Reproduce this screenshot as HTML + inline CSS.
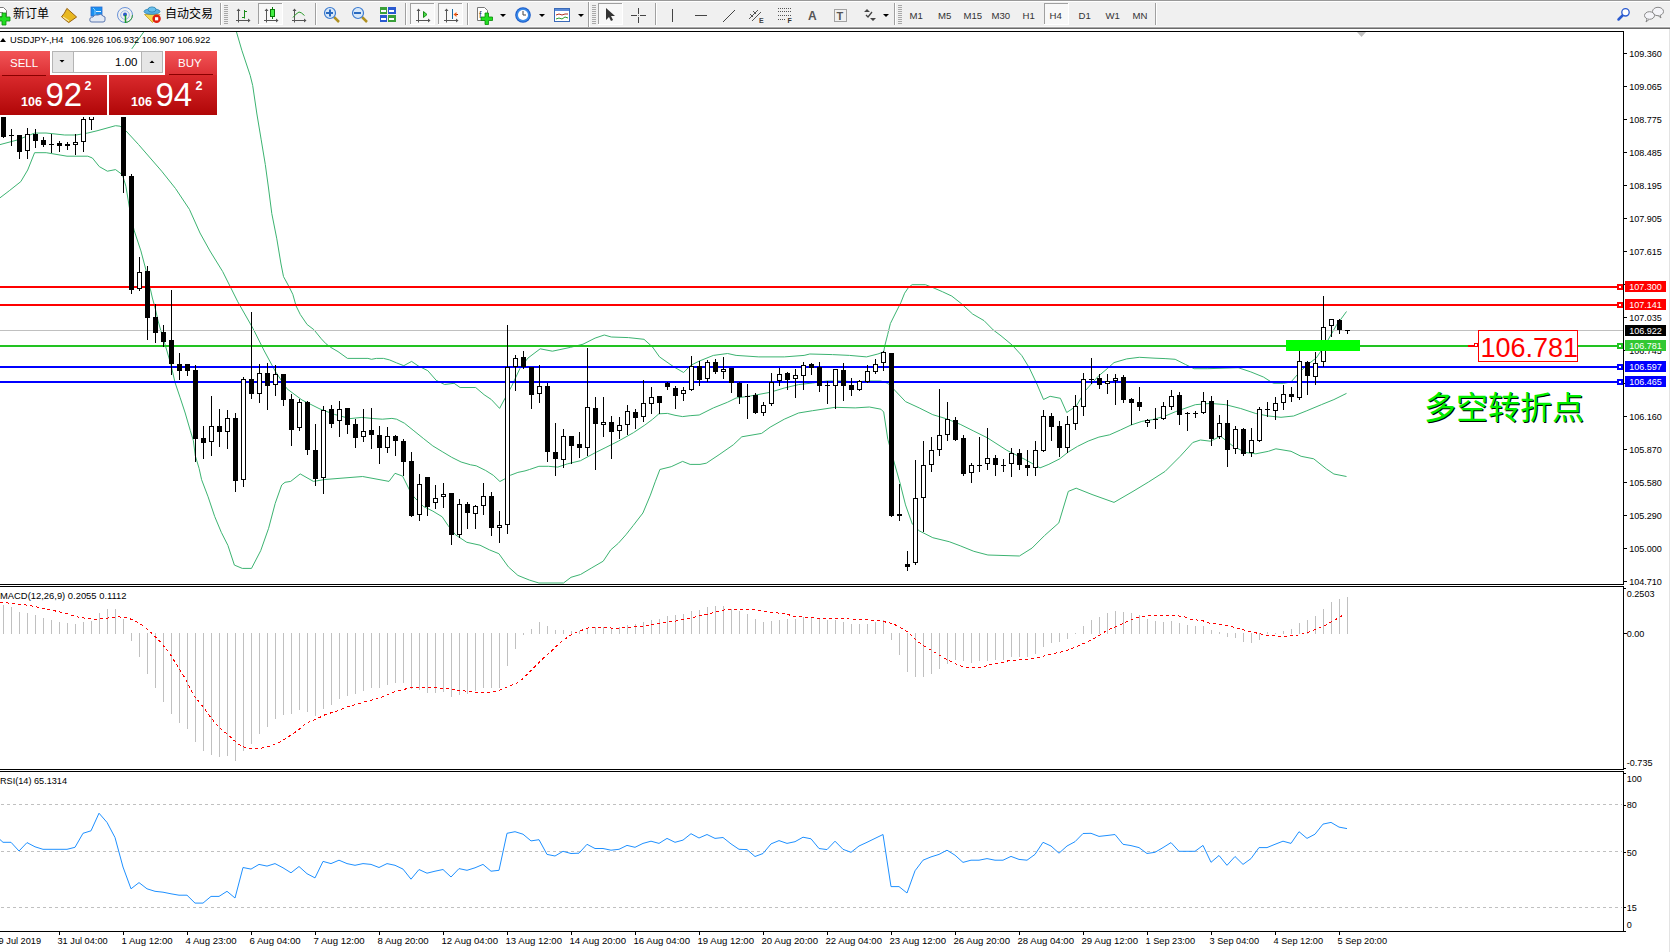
<!DOCTYPE html><html><head><meta charset="utf-8"><title>USDJPY-,H4</title><style>html,body{margin:0;padding:0;background:#fff;}body{width:1670px;height:952px;overflow:hidden;}svg{display:block;}text{font-family:"Liberation Sans","Noto Sans CJK SC",sans-serif;}</style></head><body>
<svg width="1670" height="952" viewBox="0 0 1670 952">
<rect width="1670" height="952" fill="#fff"/>
<rect x="0" y="0" width="1670" height="28" fill="#f0f0f0"/>
<rect x="0" y="0" width="1670" height="1" fill="#999"/>
<rect x="0" y="1" width="1670" height="1" fill="#fff"/>
<rect x="0" y="26" width="1670" height="1" fill="#f8f8f8"/>
<rect x="0" y="27" width="1670" height="1" fill="#a8a8a8"/>
<rect x="0" y="28" width="1670" height="1" fill="#6a6a6a"/>
<rect x="220" y="3" width="1" height="22" fill="#a0a0a0"/><rect x="221" y="3" width="1" height="22" fill="#fff"/>
<rect x="315" y="3" width="1" height="22" fill="#a0a0a0"/><rect x="316" y="3" width="1" height="22" fill="#fff"/>
<rect x="405" y="3" width="1" height="22" fill="#a0a0a0"/><rect x="406" y="3" width="1" height="22" fill="#fff"/>
<rect x="467" y="3" width="1" height="22" fill="#a0a0a0"/><rect x="468" y="3" width="1" height="22" fill="#fff"/>
<rect x="655" y="3" width="1" height="22" fill="#a0a0a0"/><rect x="656" y="3" width="1" height="22" fill="#fff"/>
<rect x="894" y="3" width="1" height="22" fill="#a0a0a0"/><rect x="895" y="3" width="1" height="22" fill="#fff"/>
<rect x="1155" y="3" width="1" height="22" fill="#a0a0a0"/><rect x="1156" y="3" width="1" height="22" fill="#fff"/>
<rect x="588" y="2" width="1" height="25" fill="#a0a0a0"/><rect x="589" y="2" width="1" height="25" fill="#fff"/>
<rect x="224" y="5" width="4" height="1" fill="#a8a8a8"/>
<rect x="224" y="7" width="4" height="1" fill="#a8a8a8"/>
<rect x="224" y="9" width="4" height="1" fill="#a8a8a8"/>
<rect x="224" y="11" width="4" height="1" fill="#a8a8a8"/>
<rect x="224" y="13" width="4" height="1" fill="#a8a8a8"/>
<rect x="224" y="15" width="4" height="1" fill="#a8a8a8"/>
<rect x="224" y="17" width="4" height="1" fill="#a8a8a8"/>
<rect x="224" y="19" width="4" height="1" fill="#a8a8a8"/>
<rect x="224" y="21" width="4" height="1" fill="#a8a8a8"/>
<rect x="224" y="23" width="4" height="1" fill="#a8a8a8"/>
<rect x="592" y="5" width="4" height="1" fill="#a8a8a8"/>
<rect x="592" y="7" width="4" height="1" fill="#a8a8a8"/>
<rect x="592" y="9" width="4" height="1" fill="#a8a8a8"/>
<rect x="592" y="11" width="4" height="1" fill="#a8a8a8"/>
<rect x="592" y="13" width="4" height="1" fill="#a8a8a8"/>
<rect x="592" y="15" width="4" height="1" fill="#a8a8a8"/>
<rect x="592" y="17" width="4" height="1" fill="#a8a8a8"/>
<rect x="592" y="19" width="4" height="1" fill="#a8a8a8"/>
<rect x="592" y="21" width="4" height="1" fill="#a8a8a8"/>
<rect x="592" y="23" width="4" height="1" fill="#a8a8a8"/>
<rect x="898" y="5" width="4" height="1" fill="#a8a8a8"/>
<rect x="898" y="7" width="4" height="1" fill="#a8a8a8"/>
<rect x="898" y="9" width="4" height="1" fill="#a8a8a8"/>
<rect x="898" y="11" width="4" height="1" fill="#a8a8a8"/>
<rect x="898" y="13" width="4" height="1" fill="#a8a8a8"/>
<rect x="898" y="15" width="4" height="1" fill="#a8a8a8"/>
<rect x="898" y="17" width="4" height="1" fill="#a8a8a8"/>
<rect x="898" y="19" width="4" height="1" fill="#a8a8a8"/>
<rect x="898" y="21" width="4" height="1" fill="#a8a8a8"/>
<rect x="898" y="23" width="4" height="1" fill="#a8a8a8"/>
<rect x="258" y="3" width="25" height="22" fill="#f8f8f8"/>
<rect x="258" y="3" width="25" height="1" fill="#a0a0a0"/><rect x="258" y="3" width="1" height="22" fill="#a0a0a0"/>
<rect x="258" y="24" width="25" height="1" fill="#fff"/><rect x="282" y="3" width="1" height="22" fill="#fff"/>
<rect x="410" y="3" width="25" height="22" fill="#f8f8f8"/>
<rect x="410" y="3" width="25" height="1" fill="#a0a0a0"/><rect x="410" y="3" width="1" height="22" fill="#a0a0a0"/>
<rect x="410" y="24" width="25" height="1" fill="#fff"/><rect x="434" y="3" width="1" height="22" fill="#fff"/>
<rect x="438" y="3" width="25" height="22" fill="#f8f8f8"/>
<rect x="438" y="3" width="25" height="1" fill="#a0a0a0"/><rect x="438" y="3" width="1" height="22" fill="#a0a0a0"/>
<rect x="438" y="24" width="25" height="1" fill="#fff"/><rect x="462" y="3" width="1" height="22" fill="#fff"/>
<rect x="598" y="3" width="25" height="22" fill="#f8f8f8"/>
<rect x="598" y="3" width="25" height="1" fill="#a0a0a0"/><rect x="598" y="3" width="1" height="22" fill="#a0a0a0"/>
<rect x="598" y="24" width="25" height="1" fill="#fff"/><rect x="622" y="3" width="1" height="22" fill="#fff"/>
<rect x="1044" y="3" width="25" height="22" fill="#f8f8f8"/>
<rect x="1044" y="3" width="25" height="1" fill="#a0a0a0"/><rect x="1044" y="3" width="1" height="22" fill="#a0a0a0"/>
<rect x="1044" y="24" width="25" height="1" fill="#fff"/><rect x="1068" y="3" width="1" height="22" fill="#fff"/>
<path d="M-1.5,7.5 h5 l3,3 v6 h-8 z" fill="#fff" stroke="#7a7a7a"/>
<rect x="0" y="12" width="3" height="1" fill="#888"/>
<path d="M2,13 h4 v4 h4 v4 h-4 v4 h-4 v-4 h-4 v-4 h4 z" fill="#22dd22" stroke="#0a8a0a" stroke-width="0.8"/>
<text x="13" y="18" font-size="12" fill="#000" font-family='"Noto Sans CJK SC",sans-serif'>新订单</text>
<path d="M61.5,16.8 q3,-3 5.4,-8.4 l9.7,8.6 l-7.9,5.6 z" fill="#e8b820" stroke="#9a6410" stroke-width="1"/>
<path d="M63,17 l6,4" fill="none" stroke="#f8e8a0" stroke-width="1.2"/>
<rect x="91" y="7" width="11" height="9" fill="#1a90f0" stroke="#2a6ad0" stroke-width="0.8"/>
<path d="M93,8 l2,2 v6" stroke="#8ad0ff" fill="none"/><rect x="96" y="11" width="5" height="1" fill="#e8f4ff"/>
<path d="M90,21 q-1,-4 3,-4 q1,-3 5,-2 q3,-2 5,1 q3,0 2,4 q0,2 -2,2 h-11 q-2,0 -2,-1 z" fill="#e4eaf4" stroke="#4a6aa8" stroke-width="0.9"/>
<circle cx="125" cy="15" r="7.5" fill="none" stroke="#6a92d8" stroke-width="1"/>
<path d="M125,22.5 a7.5,7.5 0 0 0 7.5,-7.5" fill="none" stroke="#3aa040" stroke-width="1"/>
<circle cx="125" cy="15" r="4.3" fill="none" stroke="#9ab8e8" stroke-width="1"/>
<circle cx="125" cy="14.5" r="2" fill="#2a5ac8"/>
<path d="M125.5,15 v8" fill="none" stroke="#1a9a2a" stroke-width="1.5"/>
<path d="M144.5,14.5 l8,8 l7.5,-8 z" fill="#f4d850" stroke="#c09a20" stroke-width="0.8"/>
<ellipse cx="152" cy="11.5" rx="8" ry="2.8" fill="#5ab0e0" stroke="#2a80b0" stroke-width="0.8"/>
<ellipse cx="152" cy="9.5" rx="4" ry="2.6" fill="#6ac0ec" stroke="#2a80b0" stroke-width="0.8"/>
<circle cx="156.6" cy="18.8" r="4.2" fill="#e02010"/><rect x="155" y="17.2" width="3.2" height="3.2" fill="#fff"/>
<text x="165" y="18" font-size="12" fill="#000" font-family='"Noto Sans CJK SC",sans-serif'>自动交易</text>
<path d="M238.5,9.5 v13 M236.0,20.5 h13" stroke="#555" stroke-width="1" fill="none"/>
<path d="M238.5,8.5 l-2,2.5 h4 z M250.5,20.5 l-2.5,-2 v4 z" fill="#555"/>
<path d="M244.5,10 v8.5 M242,17.5 h2.5 M244.5,11.5 h2.5" stroke="#1a8a1a" fill="none"/>
<path d="M266.5,9.5 v13 M264.0,20.5 h13" stroke="#555" stroke-width="1" fill="none"/>
<path d="M266.5,8.5 l-2,2.5 h4 z M278.5,20.5 l-2.5,-2 v4 z" fill="#555"/>
<path d="M272.5,7 v12" stroke="#0a7a0a"/><rect x="270.5" y="9.5" width="4" height="7" fill="#44ee44" stroke="#0a7a0a"/>
<path d="M294.5,9.5 v13 M292.0,20.5 h13" stroke="#555" stroke-width="1" fill="none"/>
<path d="M294.5,8.5 l-2,2.5 h4 z M306.5,20.5 l-2.5,-2 v4 z" fill="#555"/>
<path d="M293,17.5 q3,-4 6,-5.5 q2,0 5.5,3.5" stroke="#2a9a2a" fill="none" stroke-width="1"/>
<line x1="334" y1="17" x2="339" y2="22" stroke="#b09020" stroke-width="2.5"/>
<circle cx="330" cy="13" r="5.5" fill="#d8e8f8" stroke="#3a7ad0" stroke-width="1.2"/>
<rect x="326" y="12" width="7" height="2" fill="#2a6ac0"/>
<rect x="329" y="9.5" width="2" height="7" fill="#2a6ac0"/>
<line x1="362" y1="17" x2="367" y2="22" stroke="#b09020" stroke-width="2.5"/>
<circle cx="358" cy="13" r="5.5" fill="#d8e8f8" stroke="#3a7ad0" stroke-width="1.2"/>
<rect x="354" y="12" width="7" height="2" fill="#2a6ac0"/>
<rect x="380" y="7" width="7" height="7" fill="#3aa03a"/><rect x="388" y="7" width="8" height="7" fill="#2a5ad0"/>
<rect x="380" y="15" width="7" height="7" fill="#2a5ad0"/><rect x="388" y="15" width="8" height="7" fill="#3aa03a"/>
<rect x="381" y="10" width="5" height="2" fill="#fff"/>
<rect x="389" y="10" width="5" height="2" fill="#fff"/>
<rect x="381" y="18" width="5" height="2" fill="#fff"/>
<rect x="389" y="18" width="5" height="2" fill="#fff"/>
<path d="M418.5,9.5 v13 M416.0,20.5 h13" stroke="#555" stroke-width="1" fill="none"/>
<path d="M418.5,8.5 l-2,2.5 h4 z M430.5,20.5 l-2.5,-2 v4 z" fill="#555"/>
<path d="M423.5,11.5 l3.5,3 l-3.5,3 z" fill="#44dd44" stroke="#1a8a1a"/>
<path d="M446.5,9.5 v13 M444.0,20.5 h13" stroke="#555" stroke-width="1" fill="none"/>
<path d="M446.5,8.5 l-2,2.5 h4 z M458.5,20.5 l-2.5,-2 v4 z" fill="#555"/>
<path d="M452.5,9 v10" stroke="#1a6aa0"/><path d="M458,14.5 h-4" stroke="#a02000"/><path d="M453.5,14.5 l3,-2.5 v5 z" fill="#f05a10"/>
<path d="M477.5,7.5 h7 l3,3 v10 h-10 z" fill="#fff" stroke="#777"/>
<text x="479" y="18" font-size="9" fill="#333" font-family="Liberation Serif,serif">f</text>
<path d="M485,13 h3.5 v4 h4 v3.5 h-4 v4 h-3.5 v-4 h-4 v-3.5 h4 z" fill="#22dd22" stroke="#0a8a0a" stroke-width="0.8"/>
<path d="M500,14 h6 l-3,3 z" fill="#000"/>
<path d="M539,14 h6 l-3,3 z" fill="#000"/>
<path d="M578,14 h6 l-3,3 z" fill="#000"/>
<circle cx="523" cy="15" r="7.8" fill="#1a5ac8"/><circle cx="523" cy="15" r="6.8" fill="#3a8ae8"/><circle cx="523" cy="15" r="5" fill="#fff"/>
<path d="M523,11 v4 h3" stroke="#444" fill="none"/>
<rect x="554.5" y="8.5" width="15" height="13" fill="#fff" stroke="#3a6ab8"/><rect x="555" y="9" width="14" height="2" fill="#5a8ad8"/>
<path d="M556,15 l3,-1 l3,1 l3,-1 l3,0" stroke="#b03020" fill="none"/><path d="M556,19 l3,-1 l3,1 l3,-2 l3,1" stroke="#2a9a2a" fill="none"/>
<path d="M606,8 v12 l3,-3 l2,4 l2,-1 l-2,-4 h4 z" fill="#333"/>
<path d="M631,15.5 h6 M640,15.5 h6 M638.5,8 v6 M638.5,17 v6" stroke="#444"/><rect x="638" y="15" width="1" height="1" fill="#888"/>
<path d="M672.5,9 v13" stroke="#444"/>
<path d="M695,15.5 h12" stroke="#444"/>
<path d="M723,22 l12,-12" stroke="#444"/>
<path d="M749,19 l9,-9 M752,21 l9,-9 M750,14 l3,3 M753,11 l3,3" stroke="#555" fill="none"/>
<text x="759" y="23" font-size="7" font-weight="bold" fill="#444" font-family="Liberation Sans,sans-serif">E</text>
<path d="M778,8.5 h14" stroke="#555" stroke-dasharray="1 1"/>
<path d="M778,11.5 h14" stroke="#555" stroke-dasharray="1 1"/>
<path d="M778,15.5 h14" stroke="#555" stroke-dasharray="1 1"/>
<path d="M778,19.5 h8" stroke="#555" stroke-dasharray="1 1"/>
<text x="787.5" y="23" font-size="7" font-weight="bold" fill="#333" font-family="Liberation Sans,sans-serif">F</text>
<text x="808" y="20" font-size="12" font-weight="bold" fill="#555" font-family="Liberation Sans,sans-serif">A</text>
<rect x="834.5" y="9.5" width="12" height="12" fill="none" stroke="#555" stroke-dasharray="1 1"/>
<text x="836.5" y="20" font-size="11" font-weight="bold" fill="#555" font-family="Liberation Sans,sans-serif">T</text>
<path d="M864,12 l3,-3 l3,3 z M870,18 l3,3 l3,-3 z" fill="#444"/><path d="M866,15 l2,2 l4,-5" stroke="#444" fill="none" stroke-width="1.3"/>
<path d="M883,14 h6 l-3,3 z" fill="#000"/>
<text x="909.5" y="18.8" font-size="9.6" fill="#333" font-family="Liberation Sans,sans-serif">M1</text>
<text x="938.0" y="18.8" font-size="9.6" fill="#333" font-family="Liberation Sans,sans-serif">M5</text>
<text x="963.5" y="18.8" font-size="9.6" fill="#333" font-family="Liberation Sans,sans-serif">M15</text>
<text x="991.5" y="18.8" font-size="9.6" fill="#333" font-family="Liberation Sans,sans-serif">M30</text>
<text x="1022.5" y="18.8" font-size="9.6" fill="#333" font-family="Liberation Sans,sans-serif">H1</text>
<text x="1049.5" y="18.8" font-size="9.6" fill="#333" font-family="Liberation Sans,sans-serif">H4</text>
<text x="1078.5" y="18.8" font-size="9.6" fill="#333" font-family="Liberation Sans,sans-serif">D1</text>
<text x="1105.5" y="18.8" font-size="9.6" fill="#333" font-family="Liberation Sans,sans-serif">W1</text>
<text x="1132.5" y="18.8" font-size="9.6" fill="#333" font-family="Liberation Sans,sans-serif">MN</text>
<line x1="1618.5" y1="19.5" x2="1622.5" y2="15.5" stroke="#2a5ad0" stroke-width="2.5" stroke-linecap="round"/>
<circle cx="1625.5" cy="12.3" r="3.7" fill="#fff" stroke="#2a5ad0" stroke-width="1.3"/>
<ellipse cx="1658" cy="11.5" rx="5.5" ry="4.2" fill="#f4f4f8" stroke="#888"/>
<path d="M1660,15 l1,3 l-3,-2.5" fill="#f4f4f8" stroke="#888"/>
<ellipse cx="1649.5" cy="15.5" rx="5" ry="3.8" fill="#f4f4f8" stroke="#888"/>
<path d="M1647,19 l-1,3 l3,-2.5" fill="#f4f4f8" stroke="#888"/>
<defs><clipPath id="cm"><rect x="0" y="32" width="1623" height="552"/></clipPath><clipPath id="cd"><rect x="0" y="587" width="1623" height="182"/></clipPath><clipPath id="cr"><rect x="0" y="772" width="1623" height="159"/></clipPath></defs>
<g clip-path="url(#cm)">
<polyline points="0.0,144.6 17.3,140.0 34.6,133.1 46.0,133.0 64.7,135.0 76.0,135.0 87.8,133.0 97.0,130.8 115.5,125.7 120.0,126.2 125.9,130.8 138.6,144.6 161.7,171.2 175.5,188.5 189.4,209.3 200.0,233.0 210.0,251.0 222.7,271.6 237.8,301.8 252.9,328.3 264.3,351.0 275.6,371.8 287.0,388.8 302.0,400.0 320.0,409.0 334.4,414.4 350.0,418.6 361.9,417.4 373.9,418.6 382.3,419.2 391.9,418.4 396.6,419.2 404.4,423.2 413.9,430.8 423.3,438.4 432.8,445.9 442.2,451.6 451.7,457.3 461.1,462.0 470.6,464.8 476.2,465.8 485.7,470.5 493.3,475.3 499.9,481.5 504.6,479.0 510.3,475.3 517.9,472.4 525.0,470.9 529.5,469.5 538.9,466.3 548.4,466.3 557.8,467.1 567.3,463.9 580.5,460.7 595.6,452.5 605.1,447.8 618.3,441.2 633.4,432.7 644.8,425.1 652.3,419.5 658.9,413.8 667.4,413.4 675.0,415.3 682.6,416.6 690.1,415.7 699.2,415.0 713.4,407.9 727.6,402.2 736.1,398.0 750.3,396.0 770.1,392.3 784.3,388.0 798.5,384.6 812.6,383.0 826.8,381.0 841.0,381.0 855.2,381.8 869.4,381.0 880.7,381.0 887.8,383.3 894.6,390.1 905.5,401.6 919.2,407.9 932.8,414.7 946.5,418.8 960.2,424.3 973.8,431.1 987.5,437.9 1006.8,450.3 1025.7,459.8 1040.0,467.9 1048.9,464.3 1059.6,458.9 1068.6,451.8 1077.5,446.4 1088.2,441.1 1098.9,437.1 1109.6,434.8 1120.4,430.0 1131.1,425.0 1141.8,421.4 1152.5,419.6 1165.0,416.1 1175.7,411.6 1195.3,404.7 1210.5,403.4 1225.6,404.7 1240.7,408.5 1255.8,413.5 1268.4,416.0 1281.0,417.3 1293.6,416.0 1306.2,411.0 1321.3,404.7 1333.9,399.6 1346.5,393.4" fill="none" stroke="#3cb371" stroke-width="1"/>
<polyline points="0.0,197.8 9.2,190.8 20.8,181.6 27.7,170.0 34.6,152.7 46.2,152.7 67.0,156.2 87.8,156.2 92.4,158.0 99.3,166.6 107.4,171.2 115.5,169.6 122.4,174.7 125.9,186.2 129.3,207.0 134.0,230.0 140.9,250.9 146.3,271.3 152.4,298.0 155.5,309.5 158.1,321.0 160.8,330.5 164.0,341.0 170.7,363.8 175.1,382.7 180.2,397.8 185.2,413.0 190.3,430.6 193.4,440.7 195.3,455.8 199.1,468.4 201.6,479.7 208.1,496.8 214.7,516.5 221.3,532.3 227.9,545.4 234.4,565.1 242.3,568.4 251.5,568.4 260.7,550.7 268.6,528.3 275.2,503.4 281.7,485.0 285.0,482.3 290.7,481.4 300.2,473.9 313.4,481.4 324.8,479.5 362.6,476.5 389.0,481.4 395.0,473.3 402.6,476.1 409.2,489.4 413.9,496.9 423.3,506.4 432.8,511.1 442.2,516.8 447.9,525.3 455.5,534.8 466.8,542.3 480.0,545.2 489.5,549.9 498.9,553.7 508.4,566.9 517.9,575.4 525.0,578.3 529.5,580.1 538.9,583.0 563.5,583.0 571.0,577.3 580.5,574.5 591.8,567.8 603.2,561.2 610.7,549.9 618.3,543.3 625.9,534.8 633.4,525.3 642.9,513.0 650.4,495.1 655.2,481.8 659.9,469.5 671.2,466.7 682.6,461.4 690.1,464.4 700.0,464.4 706.3,463.2 719.1,454.7 733.3,444.8 741.8,436.8 761.6,433.4 770.1,427.2 784.3,419.2 798.5,413.0 812.6,410.7 835.3,407.3 855.2,407.9 869.4,407.0 880.9,409.2 883.7,412.0 887.8,439.3 894.6,463.9 900.0,483.0 905.5,504.9 912.3,524.0 919.2,530.8 932.8,537.7 949.2,541.7 960.2,545.8 973.8,551.3 987.9,555.0 1019.4,556.0 1032.0,548.1 1044.6,535.5 1058.8,522.9 1068.3,491.4 1076.2,488.2 1092.0,494.5 1114.0,502.4 1133.0,491.4 1148.7,481.9 1165.1,471.4 1180.2,456.3 1192.8,442.5 1200.4,440.0 1210.5,441.2 1220.5,436.2 1233.1,446.2 1245.7,452.5 1255.8,453.8 1268.4,451.3 1275.9,448.8 1291.0,451.3 1301.1,456.3 1313.7,458.8 1326.3,468.9 1333.9,474.0 1346.5,476.5" fill="none" stroke="#3cb371" stroke-width="1"/>
<polyline points="236.4,31.7 241.8,50.2 250.2,75.4 252.7,85.5 256.9,114.0 261.1,139.2 265.3,164.5 268.5,188.0 271.8,213.6 276.8,238.8 281.0,264.0 283.5,276.6 288.6,285.9 292.8,294.3 296.1,306.0 300.3,314.5 307.1,324.5 313.8,329.6 321.3,338.8 326.0,343.8 330.8,347.4 338.0,351.6 347.5,358.4 367.9,358.4 371.5,359.3 376.3,358.4 383.5,358.4 389.5,359.9 396.6,362.9 403.8,365.7 411.6,361.4 418.2,365.9 427.8,370.7 436.2,380.3 444.6,384.5 454.1,383.3 460.1,387.5 475.7,387.5 484.1,394.7 491.3,399.5 499.6,408.4 505.0,398.3 511.6,386.3 520.0,368.3 528.0,358.0 540.2,348.8 552.4,351.2 570.7,347.3 583.0,344.2 595.1,338.1 604.3,335.0 611.3,337.0 628.4,337.6 644.0,339.3 652.5,347.0 659.5,356.9 673.7,366.8 683.6,372.5 690.7,365.4 699.2,361.1 713.4,355.4 727.6,353.5 736.1,355.4 758.8,356.9 784.3,356.9 804.1,355.4 809.8,354.0 832.5,354.6 849.5,355.4 866.5,356.9 877.9,354.0 883.7,351.9 884.7,346.2 887.6,334.8 890.4,323.5 895.1,314.0 900.8,302.7 904.6,293.2 908.4,287.6 912.1,284.7 925.4,284.7 932.9,287.6 942.4,291.7 951.8,296.1 961.3,303.6 972.6,314.0 984.0,320.6 993.4,330.1 1001.0,335.8 1012.3,345.2 1021.8,355.6 1029.3,367.9 1036.9,384.0 1043.5,399.5 1050.1,396.3 1060.4,398.3 1066.7,412.5 1076.2,406.2 1085.6,390.4 1098.3,376.2 1107.7,368.3 1114.0,362.6 1126.7,358.9 1139.3,357.3 1155.0,358.2 1165.1,358.6 1175.2,359.3 1185.3,364.4 1194.1,368.7 1207.9,368.7 1223.0,368.2 1238.2,367.7 1250.8,371.9 1263.4,377.0 1273.4,383.3 1283.5,383.3 1291.0,382.0 1298.6,373.2 1306.2,365.6 1316.2,358.1 1326.3,343.0 1336.4,325.3 1346.5,311.5" fill="none" stroke="#3cb371" stroke-width="1"/>
<polyline points="120.0,75.0 126.0,62.0 132.1,48.4 144.4,31.0" fill="none" stroke="#3cb371" stroke-width="1"/>
</g>
<g clip-path="url(#cm)" shape-rendering="crispEdges">
<rect x="0" y="286" width="1623" height="2" fill="#f00"/>
<rect x="0" y="304" width="1623" height="2" fill="#f00"/>
<rect x="0" y="330" width="1623" height="1" fill="#c0c0c0"/>
<rect x="0" y="345" width="1623" height="2" fill="#22c322"/>
<rect x="0" y="366" width="1623" height="2" fill="#00f"/>
<rect x="0" y="381" width="1623" height="2" fill="#00f"/>
</g>
<g clip-path="url(#cm)" shape-rendering="crispEdges" fill="#000">
<rect x="3" y="110" width="1" height="28"/>
<rect x="1" y="110" width="5" height="27"/>
<rect x="11" y="129" width="1" height="17"/>
<rect x="9" y="135" width="5" height="1"/>
<rect x="19" y="135" width="1" height="24"/>
<rect x="17" y="135" width="5" height="17"/>
<rect x="27" y="128" width="1" height="31"/>
<rect x="25" y="134" width="5" height="17"/>
<rect x="26" y="135" width="3" height="15" fill="#fff"/>
<rect x="35" y="129" width="1" height="19"/>
<rect x="33" y="134" width="5" height="7"/>
<rect x="43" y="137" width="1" height="10"/>
<rect x="41" y="140" width="5" height="5"/>
<rect x="51" y="134" width="1" height="19"/>
<rect x="49" y="144" width="5" height="1"/>
<rect x="59" y="141" width="1" height="11"/>
<rect x="57" y="143" width="5" height="3"/>
<rect x="67" y="142" width="1" height="8"/>
<rect x="65" y="144" width="5" height="2"/>
<rect x="75" y="134" width="1" height="21"/>
<rect x="73" y="142" width="5" height="3"/>
<rect x="74" y="143" width="3" height="1" fill="#fff"/>
<rect x="83" y="110" width="1" height="42"/>
<rect x="81" y="119" width="5" height="23"/>
<rect x="82" y="120" width="3" height="21" fill="#fff"/>
<rect x="91" y="100" width="1" height="30"/>
<rect x="89" y="100" width="5" height="20"/>
<rect x="90" y="101" width="3" height="18" fill="#fff"/>
<rect x="99" y="90" width="1" height="21"/>
<rect x="97" y="95" width="5" height="10"/>
<rect x="98" y="96" width="3" height="8" fill="#fff"/>
<rect x="107" y="90" width="1" height="19"/>
<rect x="105" y="95" width="5" height="10"/>
<rect x="115" y="85" width="1" height="21"/>
<rect x="113" y="90" width="5" height="10"/>
<rect x="114" y="91" width="3" height="8" fill="#fff"/>
<rect x="123" y="110" width="1" height="83"/>
<rect x="121" y="110" width="5" height="66"/>
<rect x="131" y="174" width="1" height="120"/>
<rect x="129" y="176" width="5" height="114"/>
<rect x="139" y="257" width="1" height="34"/>
<rect x="137" y="272" width="5" height="17"/>
<rect x="138" y="273" width="3" height="15" fill="#fff"/>
<rect x="147" y="266" width="1" height="74"/>
<rect x="145" y="271" width="5" height="47"/>
<rect x="155" y="304" width="1" height="39"/>
<rect x="153" y="317" width="5" height="16"/>
<rect x="163" y="325" width="1" height="22"/>
<rect x="161" y="332" width="5" height="10"/>
<rect x="171" y="290" width="1" height="85"/>
<rect x="169" y="340" width="5" height="24"/>
<rect x="179" y="353" width="1" height="27"/>
<rect x="177" y="364" width="5" height="7"/>
<rect x="187" y="364" width="1" height="12"/>
<rect x="185" y="364" width="5" height="7"/>
<rect x="195" y="365" width="1" height="97"/>
<rect x="193" y="370" width="5" height="69"/>
<rect x="203" y="426" width="1" height="33"/>
<rect x="201" y="438" width="5" height="5"/>
<rect x="211" y="396" width="1" height="60"/>
<rect x="209" y="426" width="5" height="16"/>
<rect x="210" y="427" width="3" height="14" fill="#fff"/>
<rect x="219" y="409" width="1" height="38"/>
<rect x="217" y="426" width="5" height="6"/>
<rect x="227" y="410" width="1" height="39"/>
<rect x="225" y="418" width="5" height="14"/>
<rect x="226" y="419" width="3" height="12" fill="#fff"/>
<rect x="235" y="413" width="1" height="79"/>
<rect x="233" y="418" width="5" height="63"/>
<rect x="243" y="377" width="1" height="110"/>
<rect x="241" y="379" width="5" height="101"/>
<rect x="242" y="380" width="3" height="99" fill="#fff"/>
<rect x="251" y="312" width="1" height="87"/>
<rect x="249" y="379" width="5" height="15"/>
<rect x="259" y="364" width="1" height="39"/>
<rect x="257" y="373" width="5" height="21"/>
<rect x="258" y="374" width="3" height="19" fill="#fff"/>
<rect x="267" y="363" width="1" height="47"/>
<rect x="265" y="373" width="5" height="13"/>
<rect x="275" y="365" width="1" height="31"/>
<rect x="273" y="374" width="5" height="11"/>
<rect x="274" y="375" width="3" height="9" fill="#fff"/>
<rect x="283" y="374" width="1" height="32"/>
<rect x="281" y="374" width="5" height="26"/>
<rect x="291" y="394" width="1" height="52"/>
<rect x="289" y="399" width="5" height="31"/>
<rect x="299" y="399" width="1" height="32"/>
<rect x="297" y="402" width="5" height="26"/>
<rect x="298" y="403" width="3" height="24" fill="#fff"/>
<rect x="307" y="401" width="1" height="54"/>
<rect x="305" y="402" width="5" height="48"/>
<rect x="315" y="424" width="1" height="62"/>
<rect x="313" y="450" width="5" height="29"/>
<rect x="323" y="406" width="1" height="88"/>
<rect x="321" y="410" width="5" height="68"/>
<rect x="322" y="411" width="3" height="66" fill="#fff"/>
<rect x="331" y="405" width="1" height="23"/>
<rect x="329" y="409" width="5" height="15"/>
<rect x="339" y="401" width="1" height="36"/>
<rect x="337" y="409" width="5" height="12"/>
<rect x="338" y="410" width="3" height="10" fill="#fff"/>
<rect x="347" y="408" width="1" height="26"/>
<rect x="345" y="408" width="5" height="17"/>
<rect x="355" y="419" width="1" height="29"/>
<rect x="353" y="424" width="5" height="14"/>
<rect x="363" y="409" width="1" height="33"/>
<rect x="361" y="431" width="5" height="6"/>
<rect x="362" y="432" width="3" height="4" fill="#fff"/>
<rect x="371" y="408" width="1" height="41"/>
<rect x="369" y="430" width="5" height="5"/>
<rect x="379" y="426" width="1" height="38"/>
<rect x="377" y="435" width="5" height="13"/>
<rect x="387" y="427" width="1" height="26"/>
<rect x="385" y="436" width="5" height="12"/>
<rect x="386" y="437" width="3" height="10" fill="#fff"/>
<rect x="395" y="435" width="1" height="21"/>
<rect x="393" y="436" width="5" height="5"/>
<rect x="403" y="439" width="1" height="37"/>
<rect x="401" y="441" width="5" height="21"/>
<rect x="411" y="452" width="1" height="65"/>
<rect x="409" y="461" width="5" height="55"/>
<rect x="419" y="474" width="1" height="47"/>
<rect x="417" y="484" width="5" height="31"/>
<rect x="418" y="485" width="3" height="29" fill="#fff"/>
<rect x="427" y="477" width="1" height="39"/>
<rect x="425" y="477" width="5" height="30"/>
<rect x="435" y="485" width="1" height="24"/>
<rect x="433" y="498" width="5" height="5"/>
<rect x="434" y="499" width="3" height="3" fill="#fff"/>
<rect x="443" y="483" width="1" height="25"/>
<rect x="441" y="494" width="5" height="3"/>
<rect x="442" y="495" width="3" height="1" fill="#fff"/>
<rect x="451" y="493" width="1" height="52"/>
<rect x="449" y="493" width="5" height="42"/>
<rect x="459" y="499" width="1" height="39"/>
<rect x="457" y="504" width="5" height="31"/>
<rect x="458" y="505" width="3" height="29" fill="#fff"/>
<rect x="467" y="502" width="1" height="27"/>
<rect x="465" y="504" width="5" height="9"/>
<rect x="475" y="505" width="1" height="24"/>
<rect x="473" y="506" width="5" height="8"/>
<rect x="474" y="507" width="3" height="6" fill="#fff"/>
<rect x="483" y="483" width="1" height="32"/>
<rect x="481" y="496" width="5" height="10"/>
<rect x="482" y="497" width="3" height="8" fill="#fff"/>
<rect x="491" y="492" width="1" height="44"/>
<rect x="489" y="496" width="5" height="32"/>
<rect x="499" y="511" width="1" height="32"/>
<rect x="497" y="525" width="5" height="3"/>
<rect x="498" y="526" width="3" height="1" fill="#fff"/>
<rect x="507" y="325" width="1" height="209"/>
<rect x="505" y="367" width="5" height="158"/>
<rect x="506" y="368" width="3" height="156" fill="#fff"/>
<rect x="515" y="355" width="1" height="36"/>
<rect x="513" y="358" width="5" height="9"/>
<rect x="514" y="359" width="3" height="7" fill="#fff"/>
<rect x="523" y="351" width="1" height="18"/>
<rect x="521" y="357" width="5" height="10"/>
<rect x="531" y="367" width="1" height="42"/>
<rect x="529" y="367" width="5" height="28"/>
<rect x="539" y="365" width="1" height="38"/>
<rect x="537" y="386" width="5" height="8"/>
<rect x="538" y="387" width="3" height="6" fill="#fff"/>
<rect x="547" y="383" width="1" height="79"/>
<rect x="545" y="386" width="5" height="66"/>
<rect x="555" y="423" width="1" height="53"/>
<rect x="553" y="452" width="5" height="7"/>
<rect x="563" y="429" width="1" height="39"/>
<rect x="561" y="436" width="5" height="24"/>
<rect x="562" y="437" width="3" height="22" fill="#fff"/>
<rect x="571" y="436" width="1" height="28"/>
<rect x="569" y="436" width="5" height="10"/>
<rect x="579" y="432" width="1" height="26"/>
<rect x="577" y="444" width="5" height="4"/>
<rect x="587" y="348" width="1" height="108"/>
<rect x="585" y="407" width="5" height="41"/>
<rect x="586" y="408" width="3" height="39" fill="#fff"/>
<rect x="595" y="397" width="1" height="73"/>
<rect x="593" y="408" width="5" height="16"/>
<rect x="603" y="397" width="1" height="40"/>
<rect x="601" y="422" width="5" height="3"/>
<rect x="602" y="423" width="3" height="1" fill="#fff"/>
<rect x="611" y="416" width="1" height="43"/>
<rect x="609" y="422" width="5" height="10"/>
<rect x="619" y="417" width="1" height="22"/>
<rect x="617" y="425" width="5" height="6"/>
<rect x="618" y="426" width="3" height="4" fill="#fff"/>
<rect x="627" y="405" width="1" height="30"/>
<rect x="625" y="411" width="5" height="14"/>
<rect x="626" y="412" width="3" height="12" fill="#fff"/>
<rect x="635" y="409" width="1" height="20"/>
<rect x="633" y="412" width="5" height="6"/>
<rect x="643" y="380" width="1" height="42"/>
<rect x="641" y="403" width="5" height="14"/>
<rect x="642" y="404" width="3" height="12" fill="#fff"/>
<rect x="651" y="387" width="1" height="27"/>
<rect x="649" y="397" width="5" height="7"/>
<rect x="650" y="398" width="3" height="5" fill="#fff"/>
<rect x="659" y="396" width="1" height="18"/>
<rect x="657" y="396" width="5" height="7"/>
<rect x="667" y="382" width="1" height="8"/>
<rect x="665" y="383" width="5" height="4"/>
<rect x="675" y="386" width="1" height="23"/>
<rect x="673" y="388" width="5" height="8"/>
<rect x="683" y="387" width="1" height="14"/>
<rect x="681" y="390" width="5" height="4"/>
<rect x="682" y="391" width="3" height="2" fill="#fff"/>
<rect x="691" y="356" width="1" height="35"/>
<rect x="689" y="366" width="5" height="24"/>
<rect x="690" y="367" width="3" height="22" fill="#fff"/>
<rect x="699" y="361" width="1" height="25"/>
<rect x="697" y="366" width="5" height="14"/>
<rect x="707" y="360" width="1" height="22"/>
<rect x="705" y="362" width="5" height="17"/>
<rect x="706" y="363" width="3" height="15" fill="#fff"/>
<rect x="715" y="359" width="1" height="15"/>
<rect x="713" y="362" width="5" height="10"/>
<rect x="723" y="357" width="1" height="22"/>
<rect x="721" y="369" width="5" height="3"/>
<rect x="722" y="370" width="3" height="1" fill="#fff"/>
<rect x="731" y="368" width="1" height="25"/>
<rect x="729" y="368" width="5" height="15"/>
<rect x="739" y="382" width="1" height="22"/>
<rect x="737" y="383" width="5" height="14"/>
<rect x="747" y="384" width="1" height="35"/>
<rect x="745" y="396" width="5" height="1"/>
<rect x="755" y="393" width="1" height="21"/>
<rect x="753" y="395" width="5" height="18"/>
<rect x="763" y="402" width="1" height="14"/>
<rect x="761" y="405" width="5" height="8"/>
<rect x="762" y="406" width="3" height="6" fill="#fff"/>
<rect x="771" y="373" width="1" height="33"/>
<rect x="769" y="382" width="5" height="22"/>
<rect x="770" y="383" width="3" height="20" fill="#fff"/>
<rect x="779" y="368" width="1" height="18"/>
<rect x="777" y="374" width="5" height="7"/>
<rect x="778" y="375" width="3" height="5" fill="#fff"/>
<rect x="787" y="372" width="1" height="18"/>
<rect x="785" y="373" width="5" height="7"/>
<rect x="795" y="369" width="1" height="29"/>
<rect x="793" y="375" width="5" height="4"/>
<rect x="794" y="376" width="3" height="2" fill="#fff"/>
<rect x="803" y="362" width="1" height="28"/>
<rect x="801" y="365" width="5" height="11"/>
<rect x="802" y="366" width="3" height="9" fill="#fff"/>
<rect x="811" y="363" width="1" height="12"/>
<rect x="809" y="364" width="5" height="4"/>
<rect x="819" y="362" width="1" height="30"/>
<rect x="817" y="367" width="5" height="19"/>
<rect x="827" y="381" width="1" height="23"/>
<rect x="825" y="385" width="5" height="1"/>
<rect x="835" y="369" width="1" height="40"/>
<rect x="833" y="369" width="5" height="17"/>
<rect x="834" y="370" width="3" height="15" fill="#fff"/>
<rect x="843" y="363" width="1" height="38"/>
<rect x="841" y="370" width="5" height="16"/>
<rect x="851" y="378" width="1" height="18"/>
<rect x="849" y="385" width="5" height="5"/>
<rect x="859" y="380" width="1" height="11"/>
<rect x="857" y="381" width="5" height="9"/>
<rect x="858" y="382" width="3" height="7" fill="#fff"/>
<rect x="867" y="365" width="1" height="18"/>
<rect x="865" y="371" width="5" height="11"/>
<rect x="866" y="372" width="3" height="9" fill="#fff"/>
<rect x="875" y="359" width="1" height="15"/>
<rect x="873" y="364" width="5" height="8"/>
<rect x="874" y="365" width="3" height="6" fill="#fff"/>
<rect x="883" y="351" width="1" height="20"/>
<rect x="881" y="352" width="5" height="11"/>
<rect x="882" y="353" width="3" height="9" fill="#fff"/>
<rect x="891" y="353" width="1" height="164"/>
<rect x="889" y="353" width="5" height="163"/>
<rect x="899" y="484" width="1" height="37"/>
<rect x="897" y="514" width="5" height="2"/>
<rect x="907" y="551" width="1" height="20"/>
<rect x="905" y="564" width="5" height="3"/>
<rect x="915" y="460" width="1" height="105"/>
<rect x="913" y="498" width="5" height="65"/>
<rect x="914" y="499" width="3" height="63" fill="#fff"/>
<rect x="923" y="441" width="1" height="91"/>
<rect x="921" y="465" width="5" height="33"/>
<rect x="922" y="466" width="3" height="31" fill="#fff"/>
<rect x="931" y="437" width="1" height="35"/>
<rect x="929" y="450" width="5" height="15"/>
<rect x="930" y="451" width="3" height="13" fill="#fff"/>
<rect x="939" y="389" width="1" height="67"/>
<rect x="937" y="435" width="5" height="15"/>
<rect x="938" y="436" width="3" height="13" fill="#fff"/>
<rect x="947" y="402" width="1" height="39"/>
<rect x="945" y="419" width="5" height="16"/>
<rect x="946" y="420" width="3" height="14" fill="#fff"/>
<rect x="955" y="417" width="1" height="24"/>
<rect x="953" y="420" width="5" height="20"/>
<rect x="963" y="435" width="1" height="41"/>
<rect x="961" y="438" width="5" height="36"/>
<rect x="971" y="463" width="1" height="20"/>
<rect x="969" y="465" width="5" height="8"/>
<rect x="970" y="466" width="3" height="6" fill="#fff"/>
<rect x="979" y="437" width="1" height="35"/>
<rect x="977" y="465" width="5" height="1"/>
<rect x="987" y="428" width="1" height="42"/>
<rect x="985" y="458" width="5" height="6"/>
<rect x="986" y="459" width="3" height="4" fill="#fff"/>
<rect x="995" y="455" width="1" height="21"/>
<rect x="993" y="458" width="5" height="7"/>
<rect x="1003" y="459" width="1" height="13"/>
<rect x="1001" y="465" width="5" height="1"/>
<rect x="1011" y="448" width="1" height="29"/>
<rect x="1009" y="453" width="5" height="11"/>
<rect x="1010" y="454" width="3" height="9" fill="#fff"/>
<rect x="1019" y="449" width="1" height="21"/>
<rect x="1017" y="453" width="5" height="12"/>
<rect x="1027" y="450" width="1" height="26"/>
<rect x="1025" y="465" width="5" height="3"/>
<rect x="1035" y="441" width="1" height="35"/>
<rect x="1033" y="450" width="5" height="18"/>
<rect x="1034" y="451" width="3" height="16" fill="#fff"/>
<rect x="1043" y="410" width="1" height="42"/>
<rect x="1041" y="416" width="5" height="35"/>
<rect x="1042" y="417" width="3" height="33" fill="#fff"/>
<rect x="1051" y="413" width="1" height="28"/>
<rect x="1049" y="416" width="5" height="11"/>
<rect x="1059" y="421" width="1" height="36"/>
<rect x="1057" y="426" width="5" height="22"/>
<rect x="1067" y="416" width="1" height="37"/>
<rect x="1065" y="424" width="5" height="24"/>
<rect x="1066" y="425" width="3" height="22" fill="#fff"/>
<rect x="1075" y="395" width="1" height="35"/>
<rect x="1073" y="406" width="5" height="18"/>
<rect x="1074" y="407" width="3" height="16" fill="#fff"/>
<rect x="1083" y="373" width="1" height="43"/>
<rect x="1081" y="379" width="5" height="28"/>
<rect x="1082" y="380" width="3" height="26" fill="#fff"/>
<rect x="1091" y="358" width="1" height="26"/>
<rect x="1089" y="379" width="5" height="1"/>
<rect x="1099" y="374" width="1" height="15"/>
<rect x="1097" y="378" width="5" height="7"/>
<rect x="1107" y="374" width="1" height="20"/>
<rect x="1105" y="381" width="5" height="3"/>
<rect x="1106" y="382" width="3" height="1" fill="#fff"/>
<rect x="1115" y="374" width="1" height="31"/>
<rect x="1113" y="378" width="5" height="3"/>
<rect x="1114" y="379" width="3" height="1" fill="#fff"/>
<rect x="1123" y="375" width="1" height="28"/>
<rect x="1121" y="377" width="5" height="23"/>
<rect x="1131" y="398" width="1" height="27"/>
<rect x="1129" y="399" width="5" height="4"/>
<rect x="1139" y="387" width="1" height="24"/>
<rect x="1137" y="402" width="5" height="5"/>
<rect x="1147" y="419" width="1" height="8"/>
<rect x="1145" y="420" width="5" height="3"/>
<rect x="1146" y="421" width="3" height="1" fill="#fff"/>
<rect x="1155" y="408" width="1" height="21"/>
<rect x="1153" y="419" width="5" height="1"/>
<rect x="1163" y="402" width="1" height="18"/>
<rect x="1161" y="406" width="5" height="13"/>
<rect x="1162" y="407" width="3" height="11" fill="#fff"/>
<rect x="1171" y="390" width="1" height="20"/>
<rect x="1169" y="396" width="5" height="11"/>
<rect x="1170" y="397" width="3" height="9" fill="#fff"/>
<rect x="1179" y="392" width="1" height="33"/>
<rect x="1177" y="395" width="5" height="20"/>
<rect x="1187" y="412" width="1" height="19"/>
<rect x="1185" y="413" width="5" height="1"/>
<rect x="1195" y="411" width="1" height="7"/>
<rect x="1193" y="413" width="5" height="1"/>
<rect x="1203" y="392" width="1" height="22"/>
<rect x="1201" y="401" width="5" height="12"/>
<rect x="1202" y="402" width="3" height="10" fill="#fff"/>
<rect x="1211" y="396" width="1" height="50"/>
<rect x="1209" y="401" width="5" height="38"/>
<rect x="1219" y="415" width="1" height="24"/>
<rect x="1217" y="423" width="5" height="14"/>
<rect x="1218" y="424" width="3" height="12" fill="#fff"/>
<rect x="1227" y="400" width="1" height="67"/>
<rect x="1225" y="423" width="5" height="27"/>
<rect x="1235" y="426" width="1" height="28"/>
<rect x="1233" y="429" width="5" height="20"/>
<rect x="1234" y="430" width="3" height="18" fill="#fff"/>
<rect x="1243" y="428" width="1" height="28"/>
<rect x="1241" y="429" width="5" height="25"/>
<rect x="1251" y="428" width="1" height="29"/>
<rect x="1249" y="440" width="5" height="13"/>
<rect x="1250" y="441" width="3" height="11" fill="#fff"/>
<rect x="1259" y="407" width="1" height="35"/>
<rect x="1257" y="409" width="5" height="32"/>
<rect x="1258" y="410" width="3" height="30" fill="#fff"/>
<rect x="1267" y="402" width="1" height="15"/>
<rect x="1265" y="409" width="5" height="1"/>
<rect x="1275" y="397" width="1" height="23"/>
<rect x="1273" y="403" width="5" height="8"/>
<rect x="1274" y="404" width="3" height="6" fill="#fff"/>
<rect x="1283" y="385" width="1" height="25"/>
<rect x="1281" y="394" width="5" height="9"/>
<rect x="1282" y="395" width="3" height="7" fill="#fff"/>
<rect x="1291" y="387" width="1" height="15"/>
<rect x="1289" y="394" width="5" height="3"/>
<rect x="1299" y="351" width="1" height="49"/>
<rect x="1297" y="361" width="5" height="37"/>
<rect x="1298" y="362" width="3" height="35" fill="#fff"/>
<rect x="1307" y="361" width="1" height="34"/>
<rect x="1305" y="362" width="5" height="14"/>
<rect x="1315" y="352" width="1" height="33"/>
<rect x="1313" y="363" width="5" height="14"/>
<rect x="1314" y="364" width="3" height="12" fill="#fff"/>
<rect x="1323" y="296" width="1" height="71"/>
<rect x="1321" y="327" width="5" height="35"/>
<rect x="1322" y="328" width="3" height="33" fill="#fff"/>
<rect x="1331" y="319" width="1" height="18"/>
<rect x="1329" y="319" width="5" height="7"/>
<rect x="1330" y="320" width="3" height="5" fill="#fff"/>
<rect x="1339" y="319" width="1" height="15"/>
<rect x="1337" y="320" width="5" height="10"/>
<rect x="1347" y="330" width="1" height="4"/>
<rect x="1345" y="330" width="5" height="1"/>
</g>
<g clip-path="url(#cm)" shape-rendering="crispEdges">
<rect x="1286" y="340" width="74" height="11" fill="#00ff00"/>
<rect x="1468" y="345" width="9" height="2" fill="#f00"/>
<rect x="1478.5" y="330.5" width="99" height="31" fill="#fff" stroke="#f00"/>
<rect x="1474.5" y="343.5" width="3" height="3" fill="#fff" stroke="#f00"/>
<text x="1480.5" y="356.5" font-size="27" fill="#f00">106.781</text>
<text x="1425" y="420" font-size="32" font-weight="400" fill="#000" font-family='"Noto Sans CJK SC",sans-serif' textLength="160" lengthAdjust="spacingAndGlyphs">多空转折点</text>
<text x="1424" y="419" font-size="32" font-weight="400" fill="#00f000" font-family='"Noto Sans CJK SC",sans-serif' textLength="160" lengthAdjust="spacingAndGlyphs">多空转折点</text>
<rect x="1617" y="284" width="6" height="6" fill="#f00"/><rect x="1619" y="286" width="2" height="2" fill="#fff"/>
<rect x="1617" y="302" width="6" height="6" fill="#f00"/><rect x="1619" y="304" width="2" height="2" fill="#fff"/>
<rect x="1617" y="343" width="6" height="6" fill="#22c322"/><rect x="1619" y="345" width="2" height="2" fill="#fff"/>
<rect x="1617" y="364" width="6" height="6" fill="#00f"/><rect x="1619" y="366" width="2" height="2" fill="#fff"/>
<rect x="1617" y="379" width="6" height="6" fill="#00f"/><rect x="1619" y="381" width="2" height="2" fill="#fff"/>
</g>
<g clip-path="url(#cd)" shape-rendering="crispEdges">
<path d="M3.5,605 V634 M11.5,607 V634 M19.5,612 V634 M27.5,613 V634 M35.5,615 V634 M43.5,618 V634 M51.5,620 V634 M59.5,622 V634 M67.5,623 V634 M75.5,624 V634 M83.5,622 V634 M91.5,621 V634 M99.5,613 V634 M107.5,609 V634 M115.5,609 V634 M123.5,619 V634 M131.5,633 V641 M139.5,633 V657 M147.5,633 V674 M155.5,633 V688 M163.5,633 V702 M171.5,633 V714 M179.5,633 V723 M187.5,633 V729 M195.5,633 V742 M203.5,633 V751 M211.5,633 V755 M219.5,633 V757 M227.5,633 V756 M235.5,633 V761 M243.5,633 V751 M251.5,633 V744 M259.5,633 V734 M267.5,633 V727 M275.5,633 V719 M283.5,633 V715 M291.5,633 V714 M299.5,633 V710 M307.5,633 V712 M315.5,633 V716 M323.5,633 V709 M331.5,633 V705 M339.5,633 V699 M347.5,633 V696 M355.5,633 V694 M363.5,633 V691 M371.5,633 V688 M379.5,633 V688 M387.5,633 V685 M395.5,633 V683 M403.5,633 V683 M411.5,633 V689 M419.5,633 V690 M427.5,633 V693 M435.5,633 V693 M443.5,633 V692 M451.5,633 V697 M459.5,633 V695 M467.5,633 V694 M475.5,633 V691 M483.5,633 V688 M491.5,633 V688 M499.5,633 V688 M507.5,633 V666 M515.5,633 V649 M523.5,633 V635 M531.5,629 V634 M539.5,622 V634 M547.5,626 V634 M555.5,630 V634 M563.5,630 V634 M571.5,631 V634 M579.5,631 V634 M587.5,628 V634 M595.5,627 V634 M603.5,627 V634 M611.5,628 V634 M619.5,627 V634 M627.5,625 V634 M635.5,624 V634 M643.5,622 V634 M651.5,620 V634 M659.5,619 V634 M667.5,616 V634 M675.5,615 V634 M683.5,614 V634 M691.5,611 V634 M699.5,610 V634 M707.5,607 V634 M715.5,606 V634 M723.5,606 V634 M731.5,609 V634 M739.5,611 V634 M747.5,614 V634 M755.5,619 V634 M763.5,622 V634 M771.5,621 V634 M779.5,620 V634 M787.5,619 V634 M795.5,619 V634 M803.5,617 V634 M811.5,617 V634 M819.5,618 V634 M827.5,620 V634 M835.5,620 V634 M843.5,622 V634 M851.5,624 V634 M859.5,624 V634 M867.5,624 V634 M875.5,622 V634 M883.5,620 V634 M891.5,633 V640 M899.5,633 V655 M907.5,633 V672 M915.5,633 V677 M923.5,633 V677 M931.5,633 V674 M939.5,633 V669 M947.5,633 V664 M955.5,633 V660 M963.5,633 V661 M971.5,633 V663 M979.5,633 V661 M987.5,633 V661 M995.5,633 V660 M1003.5,633 V660 M1011.5,633 V657 M1019.5,633 V657 M1027.5,633 V657 M1035.5,633 V654 M1043.5,633 V647 M1051.5,633 V643 M1059.5,633 V642 M1067.5,633 V639 M1075.5,633 V634 M1083.5,626 V634 M1091.5,620 V634 M1099.5,617 V634 M1107.5,613 V634 M1115.5,611 V634 M1123.5,612 V634 M1131.5,613 V634 M1139.5,615 V634 M1147.5,619 V634 M1155.5,621 V634 M1163.5,622 V634 M1171.5,621 V634 M1179.5,623 V634 M1187.5,625 V634 M1195.5,626 V634 M1203.5,626 V634 M1211.5,630 V634 M1219.5,632 V634 M1227.5,633 V637 M1235.5,633 V638 M1243.5,633 V642 M1251.5,633 V643 M1259.5,633 V640 M1267.5,632 V634 M1275.5,633 V634 M1283.5,631 V634 M1291.5,629 V634 M1299.5,623 V634 M1307.5,620 V634 M1315.5,616 V634 M1323.5,609 V634 M1331.5,602 V634 M1339.5,599 V634 M1347.5,597 V634" stroke="#c0c0c0" stroke-width="1" fill="none"/>
<polyline points="0.0,602.4 7.7,603.0 19.3,604.4 29.0,605.3 38.6,607.3 48.3,609.6 58.0,611.5 67.6,614.0 77.3,616.9 87.0,618.5 96.6,619.2 106.3,618.5 110.0,617.6 118.4,616.8 128.5,618.2 135.2,621.0 143.6,626.0 152.0,633.6 160.4,642.0 168.8,652.1 177.2,665.5 185.6,679.0 194.0,695.8 202.4,705.9 210.8,717.6 219.2,727.7 227.6,734.5 238.6,744.5 248.3,748.7 258.0,748.9 267.6,746.8 277.3,743.5 287.0,737.7 296.6,731.3 306.3,723.2 316.0,719.3 325.6,714.5 335.3,711.6 344.9,707.7 354.6,704.8 364.3,701.9 373.9,699.6 383.6,696.5 393.2,692.3 400.0,690.3 409.7,688.0 419.3,687.4 438.6,688.0 448.3,688.8 458.0,690.3 467.6,691.3 477.3,692.3 487.0,692.3 496.6,691.3 506.3,687.4 515.9,683.6 521.7,679.7 527.5,673.9 535.3,666.2 543.0,658.5 550.7,651.7 558.5,644.0 566.2,638.2 573.9,633.3 581.6,630.4 587.4,628.1 593.2,627.2 602.9,627.0 611.6,628.1 619.3,628.1 629.0,627.2 638.6,626.6 648.3,625.2 658.0,623.7 667.6,622.3 677.3,620.8 687.0,618.9 696.6,616.5 706.3,614.6 715.9,612.1 725.6,609.6 735.3,609.2 754.6,609.2 764.3,611.5 773.9,612.7 783.6,613.4 793.2,616.0 802.9,616.9 819.3,618.5 838.6,618.5 858.0,619.4 877.3,620.4 887.0,622.3 892.8,623.7 900.5,627.5 908.2,632.4 915.9,640.1 925.6,646.9 935.3,652.7 944.9,658.5 954.6,663.3 964.3,667.2 970.0,668.1 983.6,666.8 993.2,663.7 1002.9,662.3 1009.7,660.4 1029.0,659.4 1038.6,657.5 1048.3,654.6 1058.0,652.7 1067.6,650.2 1077.3,646.3 1087.0,642.0 1096.6,637.2 1106.3,630.8 1115.9,626.6 1125.6,622.3 1135.3,617.9 1144.9,616.0 1154.6,615.4 1173.9,615.4 1183.6,616.5 1189.4,618.9 1202.9,620.8 1209.7,623.1 1219.3,624.3 1229.0,626.0 1238.6,628.5 1248.3,631.4 1258.0,633.3 1267.6,635.3 1277.3,636.2 1287.0,636.2 1296.6,635.3 1306.3,632.8 1315.9,629.5 1325.6,625.2 1335.3,619.8 1343.0,615.0" fill="none" stroke="#f00" stroke-width="1" stroke-dasharray="3 3"/>
</g>
<g clip-path="url(#cr)">
<path d="M1,804.5 H1622" stroke="#c0c0c0" stroke-dasharray="3 3"/>
<path d="M1,851.5 H1622" stroke="#c0c0c0" stroke-dasharray="3 3"/>
<path d="M1,907.5 H1622" stroke="#c0c0c0" stroke-dasharray="3 3"/>
<polyline points="-5.0,835.0 3.0,842.3 11.0,842.3 19.0,851.0 27.0,842.6 35.0,846.8 43.0,849.3 51.0,849.3 59.0,849.3 67.0,849.3 75.0,847.3 83.0,833.3 91.0,830.8 99.0,813.2 107.0,822.4 115.0,837.5 123.0,867.0 131.0,888.8 139.0,882.6 147.0,888.8 155.0,891.3 163.0,892.2 171.0,893.8 179.0,895.2 187.0,895.2 195.0,903.1 203.0,903.1 211.0,896.4 219.0,896.4 227.0,891.3 235.0,898.0 243.0,867.5 251.0,869.1 259.0,864.4 267.0,866.1 275.0,863.6 283.0,867.8 291.0,872.8 299.0,866.5 307.0,873.7 315.0,877.9 323.0,861.4 331.0,863.6 339.0,860.2 347.0,863.6 355.0,865.3 363.0,863.6 371.0,864.4 379.0,867.5 387.0,863.6 395.0,865.3 403.0,869.1 411.0,879.2 419.0,869.5 427.0,873.2 435.0,871.2 443.0,869.5 451.0,877.0 459.0,868.6 467.0,870.3 475.0,867.8 483.0,864.4 491.0,871.2 499.0,870.3 507.0,833.3 515.0,831.7 523.0,834.2 531.0,840.9 539.0,839.7 547.0,854.4 555.0,856.0 563.0,851.3 571.0,853.5 579.0,853.2 587.0,844.3 595.0,848.5 603.0,848.5 611.0,850.2 619.0,849.3 627.0,845.4 635.0,847.3 643.0,843.4 651.0,841.2 659.0,843.4 667.0,838.4 675.0,842.3 683.0,840.1 691.0,833.7 699.0,838.0 707.0,834.5 715.0,838.4 723.0,837.5 731.0,843.9 739.0,849.3 747.0,849.6 755.0,856.5 763.0,853.5 771.0,843.9 779.0,840.6 787.0,843.4 795.0,841.7 803.0,837.2 811.0,838.8 819.0,848.5 827.0,849.6 835.0,841.2 843.0,849.3 851.0,852.3 859.0,846.0 867.0,842.3 875.0,838.4 883.0,834.5 891.0,886.6 899.0,886.6 907.0,893.0 915.0,870.8 923.0,860.2 931.0,856.9 939.0,854.4 947.0,850.2 955.0,855.2 963.0,862.4 971.0,860.2 979.0,860.2 987.0,858.6 995.0,860.2 1003.0,860.2 1011.0,856.4 1019.0,859.4 1027.0,860.2 1035.0,854.4 1043.0,842.3 1051.0,846.0 1059.0,853.2 1067.0,846.0 1075.0,841.7 1083.0,833.5 1091.0,833.3 1099.0,836.4 1107.0,835.5 1115.0,834.5 1123.0,844.3 1131.0,845.6 1139.0,847.6 1147.0,853.5 1155.0,852.3 1163.0,847.6 1171.0,842.6 1179.0,851.3 1187.0,851.3 1195.0,851.3 1203.0,845.4 1211.0,862.3 1219.0,855.5 1227.0,865.3 1235.0,856.5 1243.0,864.4 1251.0,858.6 1259.0,847.6 1267.0,847.6 1275.0,844.3 1283.0,841.2 1291.0,843.4 1299.0,831.7 1307.0,838.4 1315.0,834.2 1323.0,824.1 1331.0,822.4 1339.0,827.1 1347.0,828.6" fill="none" stroke="#1e90ff" stroke-width="1"/>
</g>
<rect x="0" y="49" width="219" height="68" fill="#fff"/>
<defs><linearGradient id="gt" x1="0" y1="0" x2="0" y2="1"><stop offset="0" stop-color="#f25558"/><stop offset="1" stop-color="#dc2f33"/></linearGradient><linearGradient id="gb" x1="0" y1="0" x2="0" y2="1"><stop offset="0" stop-color="#da2a2d"/><stop offset="1" stop-color="#b00607"/></linearGradient></defs>
<rect x="0" y="51" width="50" height="25" fill="url(#gt)"/>
<rect x="0" y="75" width="107" height="40" fill="url(#gb)"/>
<rect x="2" y="75" width="44" height="1" fill="#8a0000"/>
<text x="10" y="67" font-size="11.5" fill="#fff">SELL</text>
<text x="21" y="106" font-size="12.5" font-weight="bold" fill="#fff">106</text>
<text x="45.5" y="106" font-size="33" fill="#fff">92</text>
<text x="84.5" y="90" font-size="12.5" font-weight="bold" fill="#fff">2</text>
<rect x="165" y="51" width="52" height="25" fill="url(#gt)"/>
<rect x="109" y="75" width="108" height="40" fill="url(#gb)"/>
<rect x="169" y="74" width="44" height="1" fill="#8a0000"/>
<text x="178" y="67" font-size="11.5" fill="#fff">BUY</text>
<text x="131" y="106" font-size="12.5" font-weight="bold" fill="#fff">106</text>
<text x="155.5" y="106" font-size="33" fill="#fff">94</text>
<text x="195.5" y="90" font-size="12.5" font-weight="bold" fill="#fff">2</text>
<rect x="52.5" y="51.5" width="110" height="21" fill="#fff" stroke="#b4b4b4"/>
<rect x="53" y="52" width="21" height="20" fill="#e6e6e6"/><rect x="73" y="52" width="1" height="20" fill="#b4b4b4"/>
<rect x="142" y="52" width="20" height="20" fill="#e6e6e6"/><rect x="141" y="52" width="1" height="20" fill="#b4b4b4"/>
<path d="M59.5,60 h5 l-2.5,2.5 z" fill="#000"/>
<path d="M149.5,63 h5 l-2.5,-2.5 z" fill="#000"/>
<text x="137.5" y="66" font-size="11.5" fill="#000" text-anchor="end">1.00</text>
<path d="M0,42 l3,-4 l3,4 z" fill="#000"/>
<text x="10" y="43" font-size="9.2" fill="#000" textLength="53.5" lengthAdjust="spacingAndGlyphs">USDJPY-,H4</text>
<text x="70.4" y="43" font-size="9.2" fill="#000" textLength="140" lengthAdjust="spacingAndGlyphs">106.926 106.932 106.907 106.922</text>
<text x="0" y="599" font-size="9.2" fill="#000" textLength="126.5" lengthAdjust="spacingAndGlyphs">MACD(12,26,9) 0.2055 0.1112</text>
<text x="0" y="784" font-size="9.2" fill="#000" textLength="67" lengthAdjust="spacingAndGlyphs">RSI(14) 65.1314</text>
<path d="M1357,32 h9 l-4.5,5 z" fill="#c0c0c0"/>
<rect x="1669" y="29" width="1" height="923" fill="#e3e3e3"/>
<rect x="0" y="31" width="1624" height="1" fill="#000"/>
<rect x="0" y="584" width="1624" height="1" fill="#000"/>
<rect x="0" y="586" width="1624" height="1" fill="#000"/>
<rect x="0" y="769" width="1624" height="1" fill="#000"/>
<rect x="0" y="771" width="1624" height="1" fill="#000"/>
<rect x="0" y="931" width="1624" height="1" fill="#000"/>
<rect x="1623" y="31" width="1" height="554" fill="#000"/>
<rect x="1623" y="586" width="1" height="184" fill="#000"/>
<rect x="1623" y="771" width="1" height="161" fill="#000"/>
<rect x="1624" y="53" width="3" height="1" fill="#000"/>
<text x="1629.2" y="57.0" font-size="9.7" fill="#000" textLength="32.70" lengthAdjust="spacingAndGlyphs">109.360</text>
<rect x="1624" y="86" width="3" height="1" fill="#000"/>
<text x="1629.2" y="90.0" font-size="9.7" fill="#000" textLength="32.70" lengthAdjust="spacingAndGlyphs">109.065</text>
<rect x="1624" y="119" width="3" height="1" fill="#000"/>
<text x="1629.2" y="123.0" font-size="9.7" fill="#000" textLength="32.70" lengthAdjust="spacingAndGlyphs">108.775</text>
<rect x="1624" y="152" width="3" height="1" fill="#000"/>
<text x="1629.2" y="156.0" font-size="9.7" fill="#000" textLength="32.70" lengthAdjust="spacingAndGlyphs">108.485</text>
<rect x="1624" y="185" width="3" height="1" fill="#000"/>
<text x="1629.2" y="189.0" font-size="9.7" fill="#000" textLength="32.70" lengthAdjust="spacingAndGlyphs">108.195</text>
<rect x="1624" y="218" width="3" height="1" fill="#000"/>
<text x="1629.2" y="222.0" font-size="9.7" fill="#000" textLength="32.70" lengthAdjust="spacingAndGlyphs">107.905</text>
<rect x="1624" y="251" width="3" height="1" fill="#000"/>
<text x="1629.2" y="255.0" font-size="9.7" fill="#000" textLength="32.70" lengthAdjust="spacingAndGlyphs">107.615</text>
<rect x="1624" y="284" width="3" height="1" fill="#000"/>
<text x="1629.2" y="288.0" font-size="9.7" fill="#000" textLength="32.70" lengthAdjust="spacingAndGlyphs">107.325</text>
<rect x="1624" y="317" width="3" height="1" fill="#000"/>
<text x="1629.2" y="321.0" font-size="9.7" fill="#000" textLength="32.70" lengthAdjust="spacingAndGlyphs">107.035</text>
<rect x="1624" y="350" width="3" height="1" fill="#000"/>
<text x="1629.2" y="354.0" font-size="9.7" fill="#000" textLength="32.70" lengthAdjust="spacingAndGlyphs">106.745</text>
<rect x="1624" y="383" width="3" height="1" fill="#000"/>
<text x="1629.2" y="387.0" font-size="9.7" fill="#000" textLength="32.70" lengthAdjust="spacingAndGlyphs">106.455</text>
<rect x="1624" y="416" width="3" height="1" fill="#000"/>
<text x="1629.2" y="420.0" font-size="9.7" fill="#000" textLength="32.70" lengthAdjust="spacingAndGlyphs">106.160</text>
<rect x="1624" y="449" width="3" height="1" fill="#000"/>
<text x="1629.2" y="453.0" font-size="9.7" fill="#000" textLength="32.70" lengthAdjust="spacingAndGlyphs">105.870</text>
<rect x="1624" y="482" width="3" height="1" fill="#000"/>
<text x="1629.2" y="486.0" font-size="9.7" fill="#000" textLength="32.70" lengthAdjust="spacingAndGlyphs">105.580</text>
<rect x="1624" y="515" width="3" height="1" fill="#000"/>
<text x="1629.2" y="519.0" font-size="9.7" fill="#000" textLength="32.70" lengthAdjust="spacingAndGlyphs">105.290</text>
<rect x="1624" y="548" width="3" height="1" fill="#000"/>
<text x="1629.2" y="552.0" font-size="9.7" fill="#000" textLength="32.70" lengthAdjust="spacingAndGlyphs">105.000</text>
<rect x="1624" y="581" width="3" height="1" fill="#000"/>
<text x="1629.2" y="585.0" font-size="9.7" fill="#000" textLength="32.70" lengthAdjust="spacingAndGlyphs">104.710</text>
<rect x="1624" y="588" width="2" height="1" fill="#000"/>
<text x="1626.8" y="597.0" font-size="9.7" fill="#000" textLength="27.66" lengthAdjust="spacingAndGlyphs">0.2503</text>
<rect x="1624" y="633" width="3" height="1" fill="#000"/>
<text x="1626.8" y="637.0" font-size="9.7" fill="#000" textLength="17.60" lengthAdjust="spacingAndGlyphs">0.00</text>
<rect x="1624" y="768" width="2" height="1" fill="#000"/>
<text x="1626.8" y="766.0" font-size="9.7" fill="#000" textLength="25.65" lengthAdjust="spacingAndGlyphs">-0.735</text>
<rect x="1624" y="773" width="2" height="1" fill="#000"/>
<text x="1626.8" y="782.0" font-size="9.7" fill="#000" textLength="15.09" lengthAdjust="spacingAndGlyphs">100</text>
<rect x="1624" y="805" width="2" height="1" fill="#000"/>
<text x="1626.8" y="808.0" font-size="9.7" fill="#000" textLength="10.06" lengthAdjust="spacingAndGlyphs">80</text>
<rect x="1624" y="852" width="2" height="1" fill="#000"/>
<text x="1626.8" y="856.0" font-size="9.7" fill="#000" textLength="10.06" lengthAdjust="spacingAndGlyphs">50</text>
<rect x="1624" y="907" width="2" height="1" fill="#000"/>
<text x="1626.8" y="911.0" font-size="9.7" fill="#000" textLength="10.06" lengthAdjust="spacingAndGlyphs">15</text>
<rect x="1624" y="931" width="2" height="1" fill="#000"/>
<text x="1626.8" y="928.0" font-size="9.7" fill="#000" textLength="5.03" lengthAdjust="spacingAndGlyphs">0</text>
<rect x="1625" y="281" width="41" height="11" fill="#f00"/>
<text x="1629.2" y="290.0" font-size="9.7" fill="#fff" textLength="32.70" lengthAdjust="spacingAndGlyphs">107.300</text>
<rect x="1625" y="299" width="41" height="11" fill="#f00"/>
<text x="1629.2" y="308.0" font-size="9.7" fill="#fff" textLength="32.70" lengthAdjust="spacingAndGlyphs">107.141</text>
<rect x="1625" y="325" width="41" height="11" fill="#000"/>
<text x="1629.2" y="334.0" font-size="9.7" fill="#fff" textLength="32.70" lengthAdjust="spacingAndGlyphs">106.922</text>
<rect x="1625" y="340" width="41" height="11" fill="#32c832"/>
<text x="1629.2" y="349.0" font-size="9.7" fill="#fff" textLength="32.70" lengthAdjust="spacingAndGlyphs">106.781</text>
<rect x="1625" y="361" width="41" height="11" fill="#00f"/>
<text x="1629.2" y="370.0" font-size="9.7" fill="#fff" textLength="32.70" lengthAdjust="spacingAndGlyphs">106.597</text>
<rect x="1625" y="376" width="41" height="11" fill="#00f"/>
<text x="1629.2" y="385.0" font-size="9.7" fill="#fff" textLength="32.70" lengthAdjust="spacingAndGlyphs">106.465</text>
<text x="-6.5" y="944.0" font-size="9.7" fill="#000" textLength="47.56" lengthAdjust="spacingAndGlyphs">29 Jul 2019</text>
<rect x="59" y="932" width="1" height="3" fill="#000"/>
<text x="57.5" y="944.0" font-size="9.7" fill="#000" textLength="50.12" lengthAdjust="spacingAndGlyphs">31 Jul 04:00</text>
<rect x="123" y="932" width="1" height="3" fill="#000"/>
<text x="121.5" y="944.0" font-size="9.7" fill="#000" textLength="51.21" lengthAdjust="spacingAndGlyphs">1 Aug 12:00</text>
<rect x="187" y="932" width="1" height="3" fill="#000"/>
<text x="185.5" y="944.0" font-size="9.7" fill="#000" textLength="51.21" lengthAdjust="spacingAndGlyphs">4 Aug 23:00</text>
<rect x="251" y="932" width="1" height="3" fill="#000"/>
<text x="249.5" y="944.0" font-size="9.7" fill="#000" textLength="51.21" lengthAdjust="spacingAndGlyphs">6 Aug 04:00</text>
<rect x="315" y="932" width="1" height="3" fill="#000"/>
<text x="313.5" y="944.0" font-size="9.7" fill="#000" textLength="51.21" lengthAdjust="spacingAndGlyphs">7 Aug 12:00</text>
<rect x="379" y="932" width="1" height="3" fill="#000"/>
<text x="377.5" y="944.0" font-size="9.7" fill="#000" textLength="51.21" lengthAdjust="spacingAndGlyphs">8 Aug 20:00</text>
<rect x="443" y="932" width="1" height="3" fill="#000"/>
<text x="441.5" y="944.0" font-size="9.7" fill="#000" textLength="56.49" lengthAdjust="spacingAndGlyphs">12 Aug 04:00</text>
<rect x="507" y="932" width="1" height="3" fill="#000"/>
<text x="505.5" y="944.0" font-size="9.7" fill="#000" textLength="56.49" lengthAdjust="spacingAndGlyphs">13 Aug 12:00</text>
<rect x="571" y="932" width="1" height="3" fill="#000"/>
<text x="569.5" y="944.0" font-size="9.7" fill="#000" textLength="56.49" lengthAdjust="spacingAndGlyphs">14 Aug 20:00</text>
<rect x="635" y="932" width="1" height="3" fill="#000"/>
<text x="633.5" y="944.0" font-size="9.7" fill="#000" textLength="56.49" lengthAdjust="spacingAndGlyphs">16 Aug 04:00</text>
<rect x="699" y="932" width="1" height="3" fill="#000"/>
<text x="697.5" y="944.0" font-size="9.7" fill="#000" textLength="56.49" lengthAdjust="spacingAndGlyphs">19 Aug 12:00</text>
<rect x="763" y="932" width="1" height="3" fill="#000"/>
<text x="761.5" y="944.0" font-size="9.7" fill="#000" textLength="56.49" lengthAdjust="spacingAndGlyphs">20 Aug 20:00</text>
<rect x="827" y="932" width="1" height="3" fill="#000"/>
<text x="825.5" y="944.0" font-size="9.7" fill="#000" textLength="56.49" lengthAdjust="spacingAndGlyphs">22 Aug 04:00</text>
<rect x="891" y="932" width="1" height="3" fill="#000"/>
<text x="889.5" y="944.0" font-size="9.7" fill="#000" textLength="56.49" lengthAdjust="spacingAndGlyphs">23 Aug 12:00</text>
<rect x="955" y="932" width="1" height="3" fill="#000"/>
<text x="953.5" y="944.0" font-size="9.7" fill="#000" textLength="56.49" lengthAdjust="spacingAndGlyphs">26 Aug 20:00</text>
<rect x="1019" y="932" width="1" height="3" fill="#000"/>
<text x="1017.5" y="944.0" font-size="9.7" fill="#000" textLength="56.49" lengthAdjust="spacingAndGlyphs">28 Aug 04:00</text>
<rect x="1083" y="932" width="1" height="3" fill="#000"/>
<text x="1081.5" y="944.0" font-size="9.7" fill="#000" textLength="56.49" lengthAdjust="spacingAndGlyphs">29 Aug 12:00</text>
<rect x="1147" y="932" width="1" height="3" fill="#000"/>
<text x="1145.5" y="944.0" font-size="9.7" fill="#000" textLength="49.61" lengthAdjust="spacingAndGlyphs">1 Sep 23:00</text>
<rect x="1211" y="932" width="1" height="3" fill="#000"/>
<text x="1209.5" y="944.0" font-size="9.7" fill="#000" textLength="49.61" lengthAdjust="spacingAndGlyphs">3 Sep 04:00</text>
<rect x="1275" y="932" width="1" height="3" fill="#000"/>
<text x="1273.5" y="944.0" font-size="9.7" fill="#000" textLength="49.61" lengthAdjust="spacingAndGlyphs">4 Sep 12:00</text>
<rect x="1339" y="932" width="1" height="3" fill="#000"/>
<text x="1337.5" y="944.0" font-size="9.7" fill="#000" textLength="49.61" lengthAdjust="spacingAndGlyphs">5 Sep 20:00</text>
</svg></body></html>
